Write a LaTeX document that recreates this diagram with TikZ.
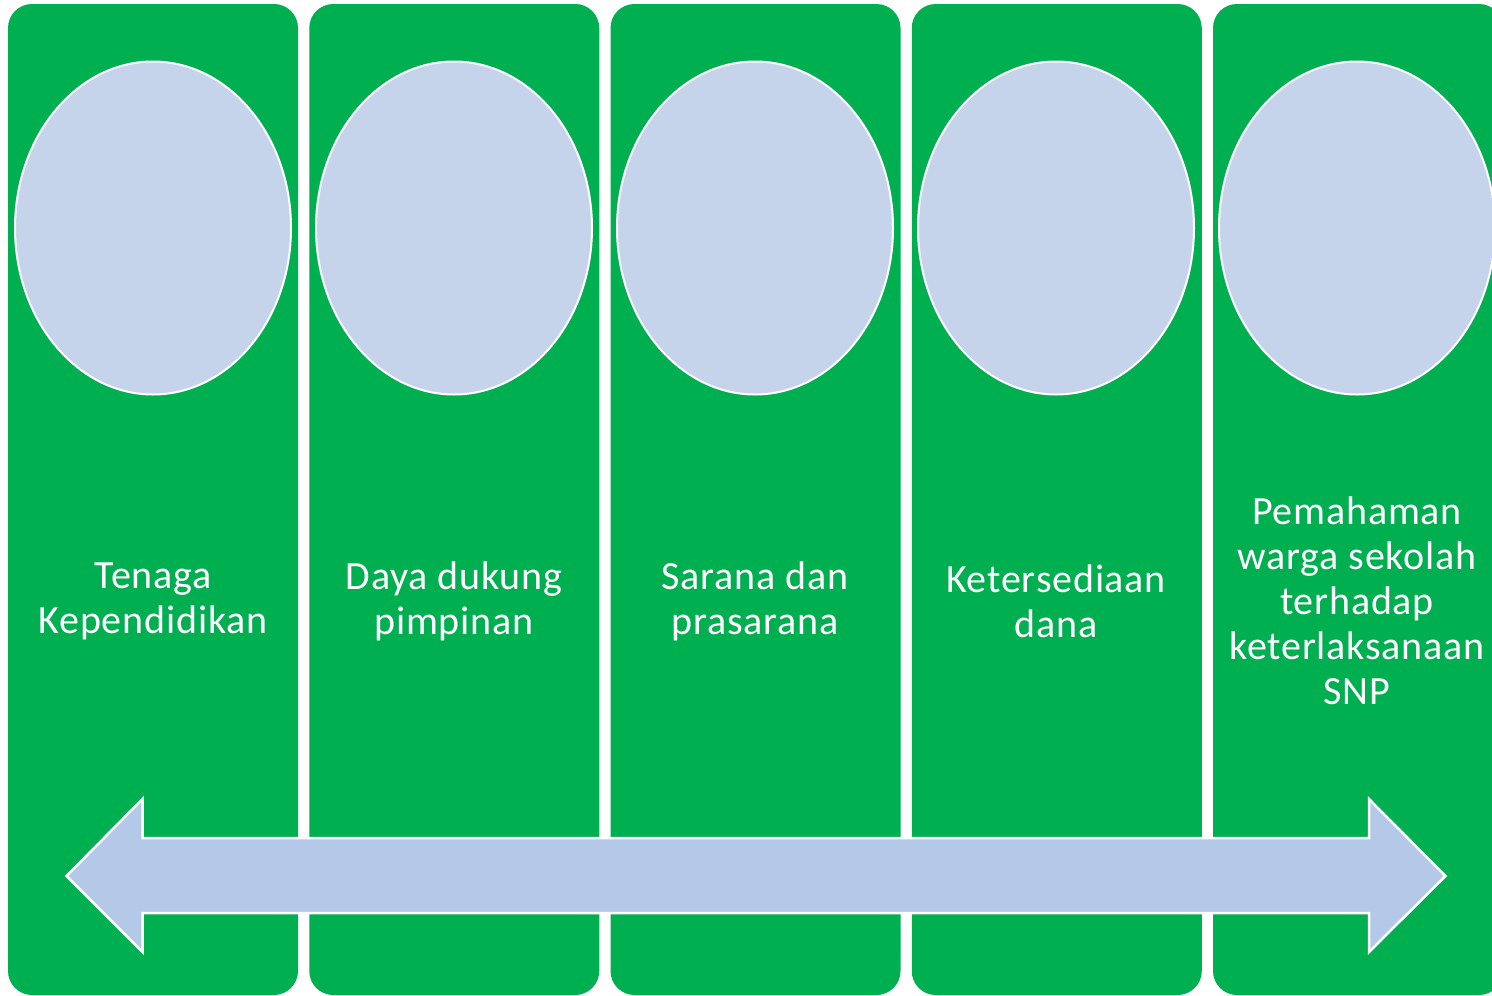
\documentclass[tikz,border=0pt]{standalone}
\usepackage{fontspec}
\setmainfont{Carlito}[LetterSpace=2]
\usetikzlibrary{shapes.geometric}
\definecolor{colgreen}{HTML}{00AF50}
\definecolor{ellblue}{HTML}{C5D4EA}
\definecolor{arrblue}{HTML}{B4C8E7}
\begin{document}
\begin{tikzpicture}[x=1pt,y=-1pt,
  column/.style={fill=colgreen,draw=none,rounded corners=24pt},
  circ/.style={ellipse,fill=ellblue,draw=white,line width=2pt,minimum width=276pt,minimum height=333pt,inner sep=0pt},
  label/.style={text=white,align=center,font=\fontsize{40}{45}\selectfont,inner sep=0pt}
]
\useasboundingbox (0,0) rectangle (1492,996);
\fill[white] (0,0) rectangle (1492,996);
\begin{scope}
\clip (0,0) rectangle (1492,996);
\foreach \i in {0,...,4}{
  \fill[column] ({8+301.25*\i},4) rectangle ({298+301.25*\i},995);
}
\end{scope}
\begin{scope}
\clip (0,0) rectangle (1492,996);
\node[circ] (e1) at (153,228) {};
\node[circ] (e2) at (454,228) {};
\node[circ] (e3) at (755,228) {};
\node[circ] (e4) at (1056,228) {};
\node[circ] (e5) at (1357,228) {};
\end{scope}
\node[label] (t1) at (153,601) {Tenaga\\Kependidikan};
\node[label] (t2) at (454,601) {Daya dukung\\pimpinan};
\node[label] (t3) at (755,601) {Sarana dan\\prasarana};
\node[label] (t4) at (1056,601) {Ketersediaan\\dana};
\node[label] (t5) at (1357,601) {Pemahaman\\warga sekolah\\terhadap\\keterlaksanaan\\SNP};
\draw[fill=arrblue,draw=white,line width=2.5pt,line join=miter]
  (66.5,876) -- (142.5,799) -- (142.5,838) -- (1369,838) -- (1369,799) -- (1445.5,876)
  -- (1369,952) -- (1369,913) -- (142.5,913) -- (142.5,952) -- cycle;
\end{tikzpicture}
\end{document}
